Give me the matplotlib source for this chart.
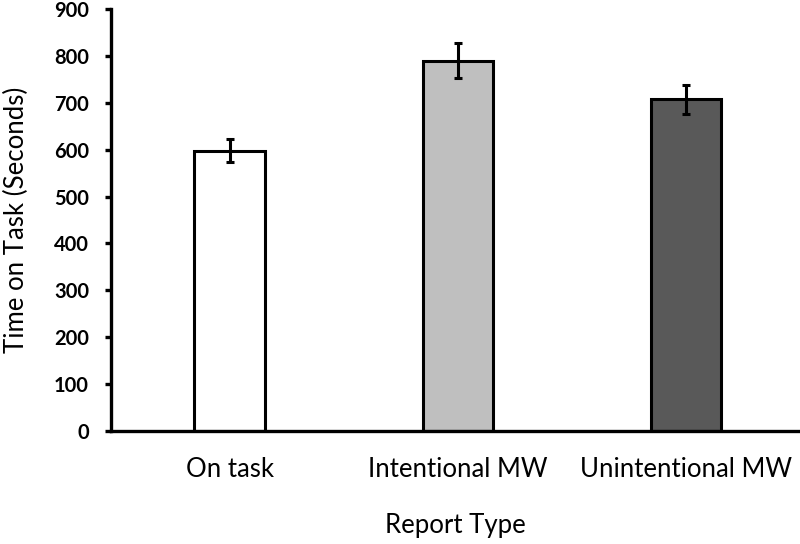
import matplotlib
matplotlib.use("Agg")
import matplotlib.pyplot as plt

categories = ["On task", "Intentional MW", "Unintentional MW"]
mean_time = [598, 790, 707]
sem_time = [25, 37, 31]
bar_colors = ["#ffffff", "#bfbfbf", "#595959"]

plt.rcParams["font.family"] = ["Lato", "DejaVu Sans"]

fig = plt.figure(figsize=(8, 5.44), dpi=100)
ax = fig.add_axes([0.139, 0.2077, 0.861, 0.7758])

x = range(len(categories))
ax.bar(x, mean_time, width=0.31, color=bar_colors, edgecolor="black", linewidth=2.2, zorder=2)
ax.errorbar(x, mean_time, yerr=sem_time, fmt="none", ecolor="black",
            elinewidth=2.2, capsize=3, capthick=2.2, zorder=3)

ax.set_xlim(-0.52, 2.5)
ax.set_ylim(0, 900)
ax.set_yticks(range(0, 901, 100))
ax.set_xticks(list(x))
ax.set_xticklabels(categories, fontsize=18.5)

for s in ("top", "right"):
    ax.spines[s].set_visible(False)
for s in ("left", "bottom"):
    ax.spines[s].set_linewidth(2.4)

ax.tick_params(axis="y", direction="out", length=4, width=2.4, labelsize=14.5, pad=12)
ax.tick_params(axis="x", length=0, pad=19)
for lbl in ax.get_yticklabels():
    lbl.set_fontweight("bold")

ax.set_ylabel("Time on Task (Seconds)", fontsize=18.5, labelpad=18)
ax.set_xlabel("Report Type", fontsize=18.5, labelpad=22)

fig.savefig("out.png", dpi=100, facecolor="white")
